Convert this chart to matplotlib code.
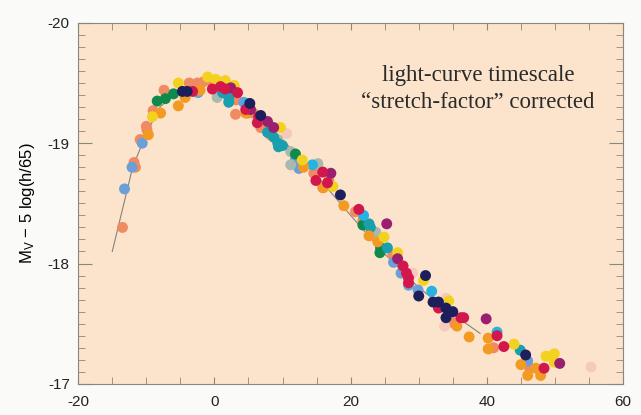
import matplotlib
matplotlib.use("Agg")
import matplotlib.pyplot as plt
from matplotlib.ticker import MultipleLocator

plt.rcParams["font.family"] = ["Liberation Sans", "DejaVu Sans"]
plt.rcParams["mathtext.default"] = "regular"
plt.rcParams["axes.unicode_minus"] = False

# days relative to peak / magnitude, grouped by marker colour
salmon_x = [-13.5, -11.8, -11.6, -10.9, -10.0, -9.9, -9.0, -7.4, -3.7, -2.5, -1.6, -0.6, -0.2,
            2.1, 3.2, 3.1, 4.9, 5.7, 6.8, 8.2, 14.6, 15.9, 16.8, 20.7, 21.8, 26.2, 35.0, 41.0, 46.3]
salmon_y = [-18.30, -18.84, -18.80, -19.03, -19.14, -19.11, -19.27, -19.44, -19.50, -19.50, -19.51,
            -19.52, -19.49, -19.40, -19.36, -19.24, -19.25, -19.25, -19.13, -19.07, -18.75, -18.63,
            -18.69, -18.43, -18.36, -18.07, -17.51, -17.30, -17.13]

blue_x = [-13.2, -12.1, -10.6, -2.4, 4.3, 12.4, 11.9, 26.3, 27.4, 28.5, 29.9, 46.0]
blue_y = [-18.62, -18.80, -19.00, -19.42, -19.34, -18.79, -18.87, -18.01, -17.92, -17.82, -17.78, -17.19]

cyan_x = [4.9, 14.4, 21.9, 31.9, 41.5]
cyan_y = [-19.33, -18.82, -18.40, -17.77, -17.43]

teal_x = [1.2, 2.1, 2.1, 7.8, 8.7, 9.3, 10.0, 9.4, 22.7, 22.9, 25.4, 44.9]
teal_y = [-19.42, -19.38, -19.34, -19.09, -19.05, -19.00, -18.98, -18.97, -18.33, -18.30, -18.13, -17.28]

green_x = [-8.4, -7.2, -6.0, 11.9, 21.8, 24.4, 24.3]
green_y = [-19.35, -19.37, -19.41, -18.91, -18.32, -18.13, -18.09]

navy_x = [-4.7, -4.0, 5.2, 6.8, 18.5, 31.0, 30.0, 32.1, 32.9, 34.0, 35.0, 34.0, 45.7]
navy_y = [-19.43, -19.43, -19.33, -19.23, -18.57, -17.90, -17.73, -17.68, -17.68, -17.63, -17.60,
          -17.55, -17.24]

crimson_x = [-3.2, -0.3, 0.9, 1.6, 3.4, 4.6, 6.5, 6.3, 14.9, 15.9, 16.6, 21.2, 27.7, 28.2, 28.5,
             28.5, 32.9, 36.2, 36.6, 41.5, 42.5, 48.4]
crimson_y = [-19.43, -19.45, -19.47, -19.45, -19.42, -19.28, -19.22, -19.17, -18.69, -18.76, -18.67,
             -18.45, -17.98, -17.92, -17.88, -17.84, -17.63, -17.55, -17.55, -17.40, -17.31, -17.13]

magenta_x = [2.4, 5.3, 7.8, 8.7, 17.1, 25.3, 26.9, 39.9, 50.7]
magenta_y = [-19.46, -19.28, -19.18, -19.13, -18.75, -18.33, -18.04, -17.54, -17.17]

yellow_x = [-9.1, -5.3, -1.0, 0.2, 1.6, 2.9, 9.7, 12.9, 17.4, 24.9, 26.9, 30.7, 34.4, 44.0, 48.7,
            49.9, 49.9]
yellow_y = [-19.22, -19.50, -19.55, -19.53, -19.52, -19.48, -19.13, -18.86, -18.64, -18.22, -18.09,
            -17.86, -17.69, -17.33, -17.23, -17.25, -17.18]

orange_x = [-9.7, -7.9, -5.3, -4.3, -2.1, 4.6, 13.1, 16.0, 19.0, 22.7, 24.0, 35.6, 37.4, 40.2, 40.2,
            45.0, 47.2, 46.0, 47.9]
orange_y = [-19.07, -19.25, -19.31, -19.38, -19.44, -19.25, -18.80, -18.63, -18.48, -18.23, -18.18,
            -17.48, -17.39, -17.38, -17.29, -17.16, -17.13, -17.07, -17.07]

grey_x = [0.4, 9.3, 11.2, 11.2, 15.2, 23.7]
grey_y = [-19.38, -19.03, -18.93, -18.82, -18.83, -18.26]

pink_x = [10.6, 29.1, 34.0, 33.8, 55.3]
pink_y = [-19.08, -17.92, -17.71, -17.48, -17.14]

# template curve
curve_x = [-15, -12, -10, -8, -5, -2, 0, 3, 6, 10, 15, 20, 25, 30, 35, 39]
curve_y = [-18.10, -18.80, -19.08, -19.30, -19.45, -19.50, -19.48, -19.40, -19.25, -19.03, -18.73,
           -18.40, -18.08, -17.80, -17.58, -17.42]

series = [
    (salmon_x, salmon_y, "#f08a62"),
    (blue_x, blue_y, "#6a9fd8"),
    (grey_x, grey_y, "#a9b9ad"),
    (pink_x, pink_y, "#f6c9bf"),
    (green_x, green_y, "#0d8a4c"),
    (teal_x, teal_y, "#1a9fae"),
    (cyan_x, cyan_y, "#27b3e2"),
    (orange_x, orange_y, "#f39a22"),
    (yellow_x, yellow_y, "#f2d21e"),
    (magenta_x, magenta_y, "#9b1f6f"),
    (crimson_x, crimson_y, "#d2174c"),
    (navy_x, navy_y, "#1c1f5c"),
]

fig = plt.figure(figsize=(6.41, 4.15), dpi=100, facecolor="#fafaf8")
ax = fig.add_axes([0.122, 0.075, 0.850, 0.870])
ax.set_facecolor("#fbe4cb")

ax.plot(curve_x, curve_y, color="#8a8078", lw=0.8, zorder=1)
for xs, ys, c in series:
    ax.scatter(xs, ys, s=62, color=c, edgecolors="none", zorder=2)

ax.set_xlim(-20, 60)
ax.set_ylim(-17, -20)
ax.xaxis.set_major_locator(MultipleLocator(20))
ax.xaxis.set_minor_locator(MultipleLocator(5))
ax.yaxis.set_major_locator(MultipleLocator(1))
ax.yaxis.set_minor_locator(MultipleLocator(0.1))
ax.tick_params(which="both", direction="in", top=True, right=True, color="#8c857c",
               labelsize=11, labelcolor="#222222")
ax.tick_params(axis="x", which="both", length=5, pad=8)
ax.tick_params(axis="y", which="major", length=10, pad=6)
ax.tick_params(axis="y", which="minor", length=5)
for sp in ax.spines.values():
    sp.set_color("#8c857c")
    sp.set_linewidth(0.8)

ax.set_ylabel("M$_V$ − 5 log(h/65)", fontsize=12, labelpad=8)
ax.text(38.7, -19.45, "light-curve timescale\n“stretch-factor” corrected", ha="center", va="center",
        fontsize=16.5, family="Liberation Serif", color="#2a2a2a", linespacing=1.35)

fig.savefig("out.png", dpi=100, facecolor=fig.get_facecolor())
